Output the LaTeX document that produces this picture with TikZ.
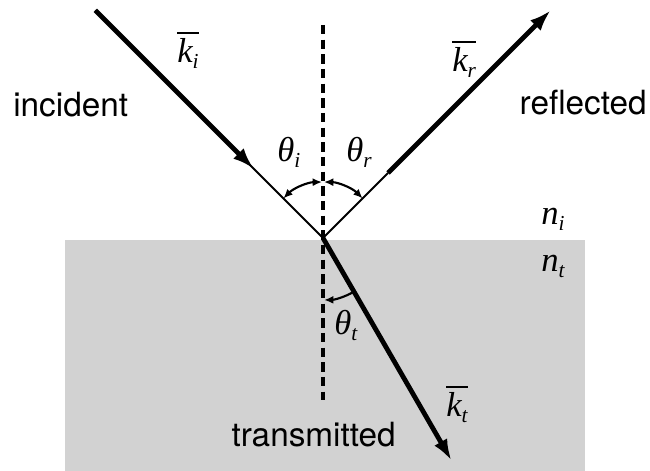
\documentclass[tikz,border=0pt]{standalone}
\usepackage{fontspec}
\setmainfont{TeX Gyre Heros}
\newfontfamily\symfont{Liberation Serif}
\usetikzlibrary{arrows.meta}
\definecolor{medium}{RGB}{210,210,210}
\newcommand\ovl[1]{\leavevmode\vbox{\hrule height 1.5pt\kern 3.5pt\hbox{#1}}}
\newcommand\sub[1]{\raisebox{-0.35ex}{\fontsize{16}{16}\selectfont #1}}
\tikzset{smalltip/.tip={Latex[length=7pt,width=6pt]}}
\begin{document}
\begin{tikzpicture}[x=0.75pt,y=0.75pt,
  ray/.style={line width=3.6pt,-{Latex[length=16pt,width=11pt]}},
  thinray/.style={line width=1.5pt},
  angarc/.style={line width=1.6pt},
  normal/.style={line width=2.6pt,dash pattern=on 7pt off 4pt},
  lbl/.style={inner sep=0pt,anchor=base west,font=\fontsize{25}{30}\selectfont},
  sym/.style={inner sep=0pt,anchor=base west,font=\symfont\fontsize{26}{30}\selectfont\itshape}]
\useasboundingbox (0,0) rectangle (650,471);
% medium
\fill[medium] (65,0) rectangle (585,231);
% geometry
\coordinate (O) at (323,233);
\coordinate (Is) at ([shift={(135:322)}]O);
\coordinate (It) at ([shift={(135:98)}]O);
\coordinate (Rm) at ([shift={(45:92)}]O);
\coordinate (Rt) at ([shift={(45:322)}]O);
\coordinate (Tt) at ([shift={(-60:257)}]O);
\coordinate (Nt) at (323,446);
\coordinate (Nb) at (323,71);
% normal
\draw[normal] (Nt) -- (Nb);
% rays
\draw[thinray] (Is) -- (O);
\draw[ray] (Is) -- (It);
\draw[thinray] (O) -- (Rm);
\draw[ray] (Rm) -- (Rt);
\draw[ray] (O) -- (Tt);
% angle arcs
\coordinate (Ai) at ([shift={(135:56)}]O);
\coordinate (Ar) at ([shift={(45:56)}]O);
\coordinate (At) at ([shift={(-60:62)}]O);
\draw[angarc,smalltip-smalltip] (Ai) arc[start angle=135,end angle=91,radius=56];
\draw[angarc,smalltip-smalltip] (Ar) arc[start angle=45,end angle=89,radius=56];
\draw[angarc,-smalltip] (At) arc[start angle=-60,end angle=-89,radius=62];
% labels
\node[lbl] (inc) at (13,354) {incident};
\node[lbl,anchor=base east] (refl) at (647,356) {reflected};
\node[lbl,anchor=base east] (trans) at (396,24) {transmitted};
\node[sym] (ni) at (541,246) {n\sub{i}};
\node[sym] (nt) at (541,199) {n\sub{t}};
\node[sym] (thi) at (277,309) {θ\sub{i}};
\node[sym] (thr) at (346,309) {θ\sub{r}};
\node[sym] (tht) at (334,136) {θ\sub{t}};
\node[sym] (ki) at (177,408) {\ovl{k\sub{i}}};
\node[sym] (kr) at (452,399) {\ovl{k\sub{r}}};
\node[sym] (kt) at (446,54) {\ovl{k\sub{t}}};
\end{tikzpicture}
\end{document}
